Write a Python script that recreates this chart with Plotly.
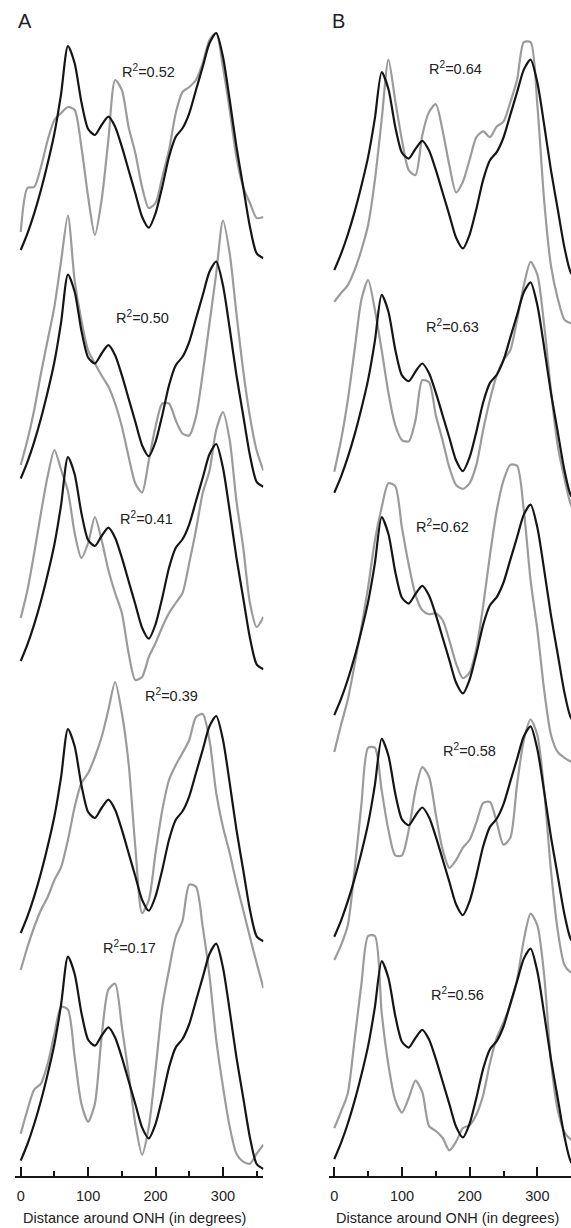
import plotly.graph_objects as go

# Angular position around the optic nerve head, degrees
DEGREES = list(range(0, 361, 10))

# Mean normal RNFL thickness profile (black), repeated in every panel
TEMPLATE = [10, 26.7, 46.7, 70, 96.7, 126.7, 166.7, 214, 196.7, 158, 131, 125, 135, 143.3,
            133.3, 113.3, 90, 66.7, 43.3, 32.3, 46.7, 73.3, 103.3, 123.3, 131.7, 146.7, 170,
            193.3, 216.7, 227, 203.3, 160, 113.3, 73.3, 33.3, 6.7, 1.7]

# Individual profiles (gray), column A, top to bottom
A1 = [28, 72, 73, 93, 120, 140, 147, 153, 150, 113, 63, 25, 60, 120, 180, 170, 133, 107, 73, 52,
      57, 83, 110, 147, 168, 173, 180, 197, 220, 227, 193, 150, 103, 73, 57, 42, 43]
A2 = [23.5, 48.5, 78.5, 115, 148.5, 182, 228, 273, 208, 168, 138, 125, 113, 102, 85, 62, 32, 5,
      -4, 28, 62, 85, 85, 68, 55, 53, 72, 115, 165, 215, 268, 235, 175, 118, 72, 38, 18]
A3 = [53, 81, 118, 158, 195, 221, 201, 180, 138, 113, 128, 154, 131, 101, 78, 58, 18, -9, -6, 14,
      28, 44, 58, 68, 78, 108, 141, 178, 200, 241, 259, 231, 170, 124, 68, 44, 54]
A4 = [-27, -4, 16, 33, 46, 63, 76, 103, 136, 160, 170, 186, 206, 233, 261, 230, 180, 96, 30, 43,
      90, 133, 163, 178, 190, 203, 226, 229, 203, 150, 116, 90, 60, 33, 6, -20, -45]
A5 = [37, 61, 81, 87, 107, 137, 164, 161, 114, 67, 49, 67, 134, 181, 187, 144, 97, 47, 16, 44,
      101, 164, 201, 234, 250, 286, 284, 244, 195, 131, 84, 44, 17, 9, 7, 17, 26]

# Individual profiles (gray), column B, top to bottom
B1 = [-22.6, -13.6, -5.4, 10, 30.7, 56.5, 103, 165, 227, 185, 144, 113, 108, 149, 173, 181, 154,
      118, 90, 101, 124, 147, 153, 147, 158, 163, 183, 206, 245, 245, 180, 82, 15, -19, -41, -45, -47]
B2 = [31.8, 64.4, 105.7, 157.2, 208.8, 229.4, 198.5, 157.2, 112.9, 79.9, 64.4, 63, 85, 126, 124,
      90, 64, 36, 18, 14, 20, 39, 75, 106, 131, 147, 157, 188, 224, 248, 235, 183, 116, 59, 25, -3, -13]
B3 = [-28, 0, 26, 62, 100, 142, 190, 224, 249, 246, 203, 165, 134, 118, 114, 115, 108, 87, 63, 48,
      54, 79, 123, 175, 221, 252, 268, 267, 221, 149, 98, 36, -10, -28, -34, -38, -40]
B4 = [-14, 1.5, 22, 79, 146, 205, 205, 161, 120, 94, 94, 120, 161, 185, 175, 136, 100, 81, 89, 102,
      110, 128, 148, 149, 128, 105, 112, 167, 213, 234, 218, 161, 79, 17, -19, -27, -29]
B5 = [42, 59, 78, 133, 190, 240, 240, 161, 107, 71, 58, 73, 91, 79, 44, 39, 32, 19, 28, 42, 45, 56,
      76, 109, 135, 151, 169, 195, 236, 263, 251, 200, 112, 61, 38, 30, 28]

R2_A = [0.52, 0.50, 0.41, 0.39, 0.17]
R2_B = [0.64, 0.63, 0.62, 0.58, 0.56]

TICKS_MAJOR = [0, 100, 200, 300]
TICKS_MINOR = [50, 150, 250, 350]
X_TITLE = "Distance around ONH (in degrees)"

# ---- layout geometry (pixels from the top of the plotting area) ----
W, H, BOTTOM = 571, 1228, 52
PLOT_H = H - BOTTOM
A_BASE = [260, 488.5, 671, 943, 1170.7]        # vertical offset of each stacked panel
B_BASE = [279.8, 502.5, 724.8, 946.5, 1168.8]
A_SCALE, B_SCALE = 1.0, 0.97
A_LABEL_POS = [(190, 70.5), (180, 316.7), (187, 518), (223, 695.3), (160.7, 946.5)]
B_LABEL_POS = [(179.3, 68.3), (174.6, 325.5), (159.8, 526.3), (199.7, 749.7), (182, 994)]

GRAY = "#9b9b9b"
BLACK = "#151515"
TEXT = "#222222"
FONT = "Liberation Sans, Arial, sans-serif"

fig = go.Figure()

columns = [
    ([A1, A2, A3, A4, A5], A_BASE, A_SCALE, "x", "y"),
    ([B1, B2, B3, B4, B5], B_BASE, B_SCALE, "x2", "y2"),
]
for profiles, bases, scale, xa, ya in columns:
    for prof, base in zip(profiles, bases):
        fig.add_trace(go.Scatter(
            x=DEGREES, y=[scale * v - base for v in prof], mode="lines",
            line=dict(color=GRAY, width=2.2, shape="spline", smoothing=0.7),
            xaxis=xa, yaxis=ya, showlegend=False, hoverinfo="skip"))
        fig.add_trace(go.Scatter(
            x=DEGREES, y=[scale * v - base for v in TEMPLATE], mode="lines",
            line=dict(color=BLACK, width=2.2, shape="spline", smoothing=0.7),
            xaxis=xa, yaxis=ya, showlegend=False, hoverinfo="skip"))

annotations = []
for r2s, pos, xr, yr in [(R2_A, A_LABEL_POS, "x", "y"), (R2_B, B_LABEL_POS, "x2", "y2")]:
    for r2, (xd, ypx) in zip(r2s, pos):
        annotations.append(dict(
            x=xd, y=-ypx, xref=xr, yref=yr, text=f"R<sup>2</sup>={r2:.2f}",
            showarrow=False, xanchor="center", yanchor="middle",
            font=dict(family=FONT, size=14.5, color=TEXT)))


def py(px):
    return 1 - px / PLOT_H


for letter, xpx in [("A", 16), ("B", 330)]:
    annotations.append(dict(x=xpx / W, y=py(21.5), xref="paper", yref="paper", text=letter,
                            showarrow=False, xanchor="left", yanchor="middle",
                            font=dict(family=FONT, size=20, color=TEXT)))
for xc in [134, 447.5]:
    annotations.append(dict(x=xc / W, y=py(1218), xref="paper", yref="paper", text=X_TITLE,
                            showarrow=False, xanchor="center", yanchor="middle",
                            font=dict(family=FONT, size=14.5, color=TEXT)))

axis_common = dict(
    showline=True, linecolor=BLACK, linewidth=1.6, ticks="inside", ticklen=9, tickwidth=1.6,
    tickcolor=BLACK, tickvals=TICKS_MAJOR, showgrid=False, zeroline=False,
    tickfont=dict(family=FONT, size=14.5, color=TEXT), ticklabelstandoff=6,
    minor=dict(ticks="inside", ticklen=5, tickwidth=1.6, tickcolor=BLACK,
               tickvals=TICKS_MINOR, showgrid=False),
)

fig.update_layout(
    width=W, height=H, margin=dict(l=0, r=0, t=0, b=BOTTOM),
    plot_bgcolor="white", paper_bgcolor="white",
    xaxis=dict(domain=[15 / W, 263.4 / W], range=[-8.5, 360], anchor="y", **axis_common),
    xaxis2=dict(domain=[329 / W, 1.0], range=[-7.8, 349.7], anchor="y2", **axis_common),
    yaxis=dict(domain=[0, 1], range=[-PLOT_H, 0], visible=False, anchor="x"),
    yaxis2=dict(domain=[0, 1], range=[-PLOT_H, 0], visible=False, anchor="x2"),
    annotations=annotations,
)

fig.write_html("out.html")
